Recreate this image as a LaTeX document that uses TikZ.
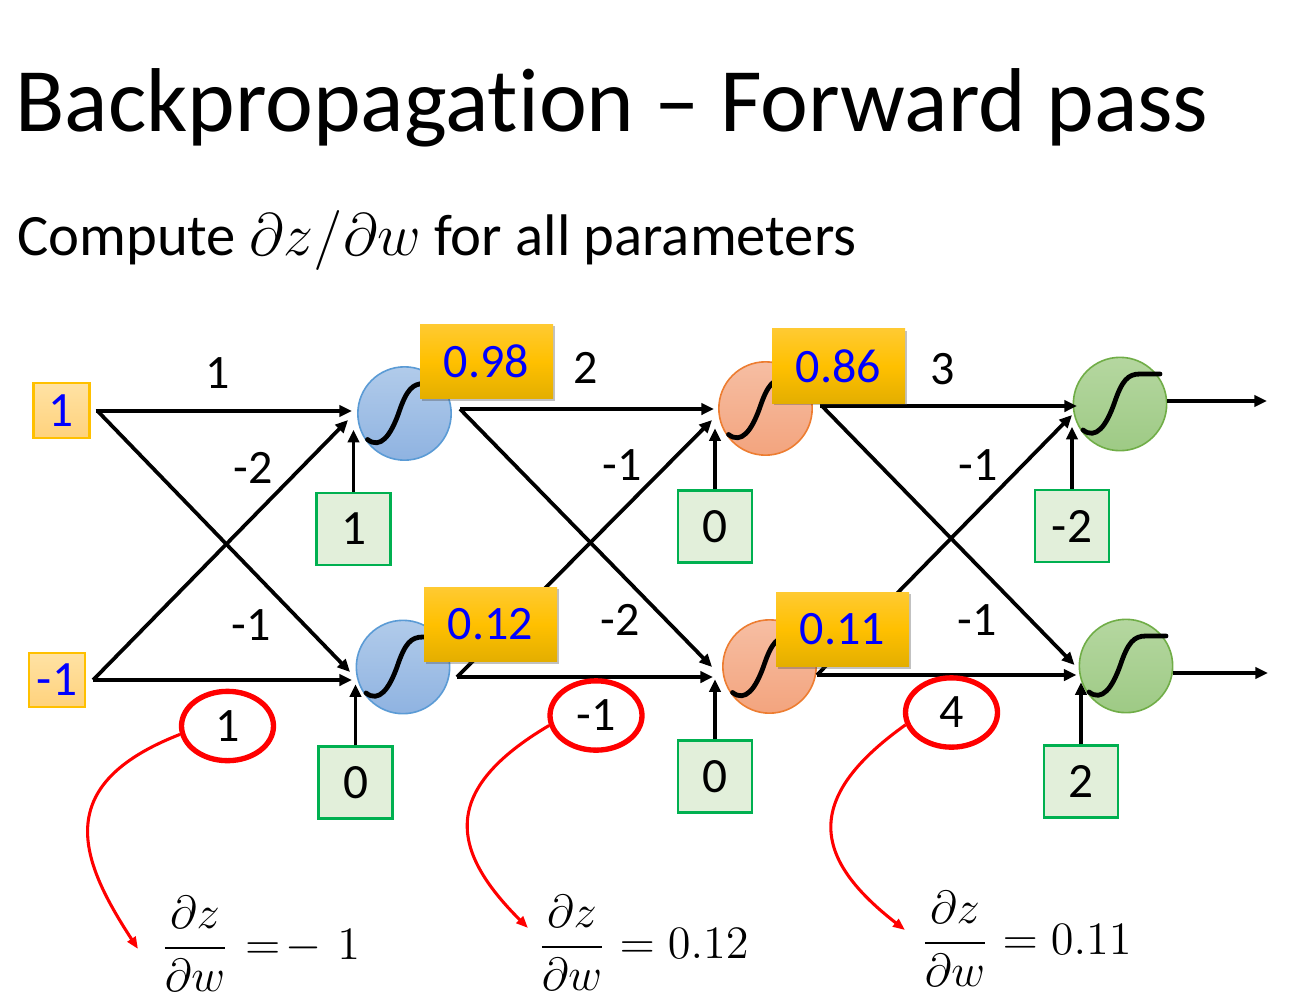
\documentclass[tikz,border=0pt]{standalone}
\usepackage{amsmath}
\usepackage{graphicx}
\usepackage{fontspec}
\setmainfont{Carlito}[Ligatures={NoCommon}]
\usetikzlibrary{arrows.meta,calc,shadows,shapes.geometric}
\definecolor{inborder}{HTML}{FFC000}
\definecolor{intop}{HTML}{FFE2A4}
\definecolor{inbot}{HTML}{FFD27C}
\definecolor{ytop}{HTML}{FFCA32}
\definecolor{ymid}{HTML}{FFC000}
\definecolor{ybot}{HTML}{E3AE00}
\definecolor{bluetop}{HTML}{B1CBEA}
\definecolor{bluebot}{HTML}{8FB3E1}
\definecolor{blueline}{HTML}{5B9BD5}
\definecolor{ortop}{HTML}{F6BEA3}
\definecolor{orbot}{HTML}{F3A47E}
\definecolor{orline}{HTML}{ED7D31}
\definecolor{grtop}{HTML}{B5D7A0}
\definecolor{grbot}{HTML}{9ECA85}
\definecolor{grline}{HTML}{70AD47}
\definecolor{biasfill}{HTML}{E2EFDA}
\definecolor{biasline}{HTML}{00B050}
\definecolor{valblue}{HTML}{0000FF}
\definecolor{redc}{HTML}{FF0000}
\newcommand{\bigmath}[2]{\scalebox{#1}{\fontsize{12}{14}\selectfont$#2$}}
\begin{document}
\begin{tikzpicture}[x=0.75pt,y=-0.75pt,
  txt/.style={font=\fontsize{36}{43}\selectfont, inner sep=0pt},
  arr/.style={line width=2.8pt, -{Triangle[length=9.5pt,width=8.5pt]}},
  redarr/.style={draw=redc, line width=2.3pt, -{Triangle[length=9pt,width=7pt]}},
  neuron/.style={circle, minimum size=70pt, inner sep=0pt, line width=1.2pt},
  blueN/.style={neuron, draw=blueline, top color=bluetop, bottom color=bluebot},
  orN/.style={neuron, draw=orline, top color=ortop, bottom color=orbot},
  grN/.style={neuron, draw=grline, top color=grtop, bottom color=grbot},
  inbox/.style={draw=inborder, line width=1.6pt, top color=intop, bottom color=inbot,
    minimum width=42pt, minimum height=41pt, inner sep=0pt, text=valblue,
    font=\fontsize{37}{44}\selectfont},
  biasbox/.style={draw=biasline, fill=biasfill, line width=1.8pt, minimum width=55.5pt,
    minimum height=54pt, inner sep=0pt, font=\fontsize{37}{44}\selectfont},
  ybox/.style={top color=ytop, bottom color=ybot, middle color=ymid,
    minimum width=99.75pt, minimum height=56pt, inner sep=0pt, text=valblue,
    font=\fontsize{36}{43}\selectfont,
    drop shadow={shadow xshift=1.5pt, shadow yshift=-1.5pt, opacity=0.35, fill=black!70}},
  redell/.style={ellipse, draw=redc, line width=4pt, minimum width=69pt,
    minimum height=52pt, inner sep=0pt, font=\fontsize{36}{43}\selectfont},
  formula/.style={anchor=west, inner sep=0pt},
  sig/.pic={\draw[line width=3.6pt, line cap=round] (-37,26) .. controls (-24,36) and (-14,22) .. (-6,0)
     .. controls (2,-24) and (8,-30) .. (20,-30) -- (40,-30);}
]
\useasboundingbox (0,0) rectangle (1294,999);

% titles
\node[anchor=base west, inner sep=0pt, font=\fontsize{68}{80}\selectfont] (title) at (15,131)
  {Backpropagation – Forward pass};
\node[anchor=base west, inner sep=0pt, font=\fontsize{44}{52}\selectfont] (subtitle) at (17,255)
  {Compute \bigmath{3.75}{\partial z/\partial w} for all parameters};

% inputs
\node[inbox] (in1) at (61.5,410.5) {1};
\node[inbox] (in2) at (57,680) {-1};

% neurons
\node[blueN] (h11) at (404.5,413.5) {};
\node[blueN] (h12) at (403,667) {};
\node[orN] (h21) at (765.5,408.5) {};
\node[orN] (h22) at (769.5,666.5) {};
\node[grN] (o1) at (1120,404) {};
\node[grN] (o2) at (1126,666) {};

% biases
\node[biasbox] (b11) at (353.5,529) {1};
\node[biasbox] (b12) at (355.5,782.5) {0};
\node[biasbox] (b21) at (715,526.5) {0};
\node[biasbox] (b22) at (715,776.5) {0};
\node[biasbox] (b31) at (1072,526) {-2};
\node[biasbox] (b32) at (1081,781.5) {2};

% layer 1 connectors
\draw[arr] ($(in1.east)+(5,0.5)$) -- ($(h11.west)+(-5,-2.5)$);
\draw[arr] ($(in1.east)+(7,0.5)$) -- ($(h12.west)+(-5.5,5)$);
\draw[arr] ($(in2.east)+(7,0)$) -- ($(h12.west)+(-3.5,13)$);
\draw[arr] ($(in2.east)+(7,0)$) -- ($(h11.west)+(-9,6.5)$);
\draw[arr] (b11.north) -- ++(0,-62);
\draw[arr] (b12.north) -- ++(0,-61);

% layer 2 connectors
\draw[arr] ($(h11.east)+(8,-4.5)$) -- ($(h21.west)+(-4,0.5)$);
\draw[arr] ($(h11.east)+(8,-4.5)$) -- ($(h22.west)+(-10,0.5)$);
\draw[arr] ($(h12.east)+(6.5,10)$) -- ($(h22.west)+(-9,10.5)$);
\draw[arr] ($(h12.east)+(6.5,10)$) -- ($(h21.west)+(-6,11.5)$);
\draw[arr] (b21.north) -- ++(0,-61);
\draw[arr] (b22.north) -- ++(0,-60);

% layer 3 connectors
\draw[arr] ($(h21.east)+(7,-2.5)$) -- ($(o1.west)+(4.5,2)$);
\draw[arr] ($(h21.east)+(9,-2.5)$) -- ($(o2.west)+(-4,-1)$);
\draw[arr] ($(h22.east)+(0,8.5)$) -- ($(o2.west)+(-2,9)$);
\draw[arr] ($(h22.east)+(0,8.5)$) -- ($(o1.west)+(-0.5,11)$);
\draw[arr] (b31.north) -- ++(0,-62);
\draw[arr] (b32.north) -- ++(0,-62);

% outputs
\coordinate (out1) at (1267,401);
\coordinate (out2) at (1268,673);
\draw[arr] (o1.east |- out1) -- (out1);
\draw[arr] (o2.east |- out2) -- (out2);

% sigmoids
\foreach \n in {h11,h12,h21,h22,o1,o2} { \pic at (\n.center) {sig}; }

% activations
\node[ybox] (a11) at (486.5,361.5) {0.98};
\node[ybox] (a12) at (490.5,624.5) {0.12};
\node[ybox] (a21) at (838.5,366) {0.86};
\node[ybox] (a22) at (842.5,629.5) {0.11};

% weights
\node[txt] (w1) at (218,373) {1};
\node[txt] (w2) at (253,468) {-2};
\node[txt] (w3) at (251,625) {-1};
\node[txt] (w4) at (586,368) {2};
\node[txt] (w5) at (622,465) {-1};
\node[txt] (w6) at (620,620) {-2};
\node[txt] (w7) at (943,369) {3};
\node[txt] (w8) at (978,465) {-1};
\node[txt] (w9) at (977,620) {-1};

% red ellipses
\node[redell] (e1) at (227.5,726) {1};
\node[redell] (e2) at (596,715.5) {-1};
\node[redell] (e3) at (951.5,712.5) {4};

% formulas
\node[formula] (f1) at (160,944)
  {\bigmath{2.9}{\dfrac{\partial z}{\partial w}\mkern6mu{=}\mkern2mu{-}\mkern6mu 1}};
\node[formula] (f2) at (537,943) {\bigmath{2.9}{\dfrac{\partial z}{\partial w}=0.12}};
\node[formula] (f3) at (920,939) {\bigmath{2.9}{\dfrac{\partial z}{\partial w}=0.11}};

% red curved arrows
\draw[redarr] (e1.190) .. controls (50,785) and (80,860) .. ($(f1.west)+(-22,5)$);
\draw[redarr] (e2.192) .. controls (440,790) and (450,850) .. ($(f2.west)+(-9,-15)$);
\draw[redarr] (e3.195) .. controls (800,800) and (815,860) .. ($(f3.west)+(-15,-9)$);
\end{tikzpicture}
\end{document}
